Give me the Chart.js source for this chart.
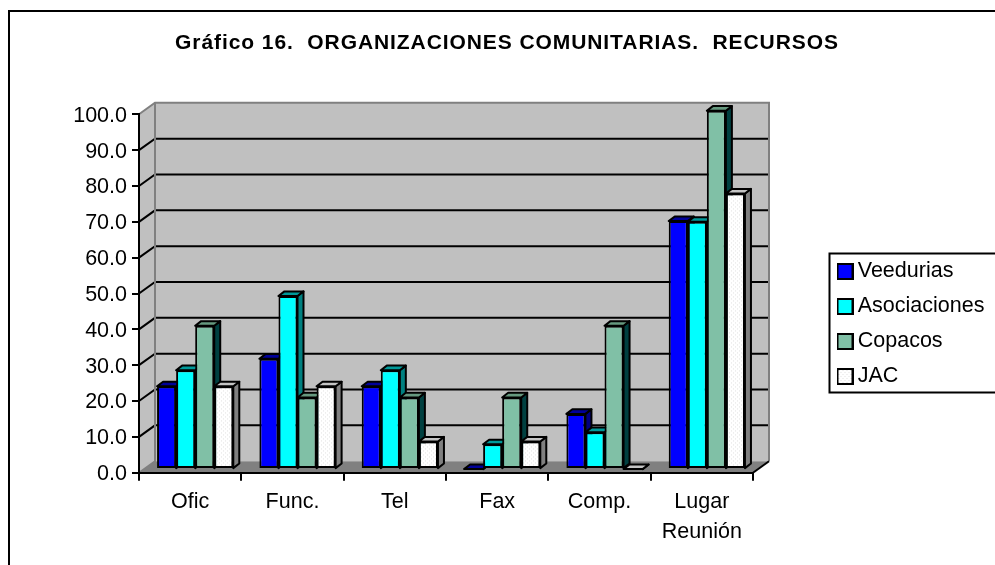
<!DOCTYPE html>
<html>
<head>
<meta charset="utf-8">
<style>html,body{margin:0;padding:0;background:#fff;overflow:hidden}canvas{display:block}</style>
<script src="https://cdn.jsdelivr.net/npm/chart.js@4"></script>
</head>
<body>
<canvas id="c" width="995" height="565"></canvas>
<script>
const titleText = 'Gráfico 16.  ORGANIZACIONES COMUNITARIAS.  RECURSOS';
const categories = ['Ofic', 'Func.', 'Tel', 'Fax', 'Comp.', ['Lugar', 'Reunión']];
const seriesNames = ['Veedurias', 'Asociaciones', 'Copacos', 'JAC'];
const veedurias = [23.1, 30.8, 23.1, 0, 15.4, 69.2];
const asociaciones = [27.6, 48.3, 27.6, 6.9, 10.3, 69.0];
const copacos = [40, 20, 20, 20, 40, 100];
const jac = [23.1, 23.1, 7.7, 7.7, 0, 76.9];
const frontColors = ['#0000ff', '#00ffff', '#80c0a6'];
const sideColors = ['#000080', '#008080', '#004040', '#808080'];
const topColors = ['#000099', '#009999', '#66997f', '#c4c4c4'];

const FONT = '"Liberation Sans", Arial, sans-serif';
const DEPTH_X = 16, DEPTH_Y = 11.5;   // depth of the 3D box
const BAR_DX = 5, BAR_DY = -3.6;      // bars stand a little inside the floor
const SIDE_X = 6, SIDE_Y = 4.6;       // depth of every bar

function tile() {
  const t = document.createElement('canvas');
  t.width = 4; t.height = 4;
  const g = t.getContext('2d');
  g.fillStyle = '#ffffff'; g.fillRect(0, 0, 4, 4);
  g.fillStyle = '#e2e2e2';
  g.fillRect(0, 0, 1, 1); g.fillRect(2, 2, 1, 1);
  return t;
}
const ctx0 = document.getElementById('c').getContext('2d');
const jacFill = ctx0.createPattern(tile(), 'repeat');

function swatch(fill) {
  const s = document.createElement('canvas');
  s.width = 17; s.height = 17;
  const g = s.getContext('2d');
  g.fillStyle = fill; g.fillRect(1, 1, 15, 15);
  g.strokeStyle = '#000'; g.lineWidth = 2; g.strokeRect(1, 1, 15, 15);
  return s;
}
const fills = [frontColors[0], frontColors[1], frontColors[2], jacFill];
const swatches = fills.map(swatch);

const box3d = {
  id: 'box3d',
  beforeDraw(chart) {
    const c = chart.ctx, a = chart.chartArea, y = chart.scales.y;
    const tb = chart.titleBlock;
    tb.left = 19; tb.right = 995;
    if (!tb._spaced) {
      const d = tb.draw;
      tb.draw = function () {
        c.letterSpacing = '0.92px';
        d.call(this);
        c.letterSpacing = '0px';
      };
      tb._spaced = true;
    }
    const lg = chart.legend;
    lg.left = 829.5; lg.right = 995; lg.top = 247.25; lg.bottom = 565;

    c.save();
    // outer frame, open on the right and at the bottom
    c.strokeStyle = '#000'; c.lineWidth = 2;
    c.beginPath(); c.moveTo(9, 565); c.lineTo(9, 11); c.lineTo(995, 11); c.stroke();
    // legend box
    c.beginPath(); c.moveTo(997, 253.5); c.lineTo(829.5, 253.5); c.lineTo(829.5, 392.5); c.lineTo(997, 392.5); c.stroke();

    const l = a.left, r = a.right, t = a.top, b = a.bottom;
    // left wall
    c.fillStyle = '#c0c0c0';
    c.beginPath(); c.moveTo(l, t); c.lineTo(l + DEPTH_X, t - DEPTH_Y); c.lineTo(l + DEPTH_X, b - DEPTH_Y); c.lineTo(l, b); c.closePath(); c.fill();
    // back wall
    c.fillRect(l + DEPTH_X, t - DEPTH_Y, r - l, b - t);
    // floor
    c.fillStyle = '#808080';
    c.beginPath(); c.moveTo(l, b); c.lineTo(l + DEPTH_X, b - DEPTH_Y); c.lineTo(r + DEPTH_X, b - DEPTH_Y); c.lineTo(r, b); c.closePath(); c.fill();
    // gridlines
    c.strokeStyle = '#000'; c.lineWidth = 2;
    y.ticks.forEach(tk => {
      if (tk.value === 0 || tk.value === 100) return;
      const p = y.getPixelForValue(tk.value);
      c.beginPath(); c.moveTo(l, p); c.lineTo(l + DEPTH_X, p - DEPTH_Y); c.lineTo(r + DEPTH_X, p - DEPTH_Y); c.stroke();
    });
    // wall outlines
    c.strokeStyle = '#808080';
    c.beginPath(); c.moveTo(l, t); c.lineTo(l + DEPTH_X, t - DEPTH_Y); c.lineTo(r + DEPTH_X, t - DEPTH_Y); c.lineTo(r + DEPTH_X, b - DEPTH_Y); c.stroke();
    c.beginPath(); c.moveTo(l + DEPTH_X, t - DEPTH_Y); c.lineTo(l + DEPTH_X, b - DEPTH_Y); c.lineTo(l, b); c.stroke();
    c.strokeStyle = '#000';
    c.beginPath(); c.moveTo(r, b); c.lineTo(r + DEPTH_X, b - DEPTH_Y); c.stroke();
    c.restore();
  },
  // Bars are painted left to right, each with its 3D side and top, so the next
  // bar's front covers the previous bar's side.
  beforeDatasetsDraw(chart) {
    const c = chart.ctx;
    c.save();
    c.translate(BAR_DX, BAR_DY);
    chart.getSortedVisibleDatasetMetas().forEach(meta => {
      const i = meta.index;
      c.save();
      c.strokeStyle = '#000'; c.lineWidth = 2; c.lineJoin = 'round';
      meta.data.forEach(el => {
        const x0 = el.x - el.width / 2, x1 = el.x + el.width / 2, yt = el.y, yb = el.base;
        c.fillStyle = sideColors[i];
        c.beginPath(); c.moveTo(x1, yt); c.lineTo(x1 + SIDE_X, yt - SIDE_Y); c.lineTo(x1 + SIDE_X, yb - SIDE_Y); c.lineTo(x1, yb); c.closePath(); c.fill(); c.stroke();
        c.fillStyle = topColors[i];
        c.beginPath(); c.moveTo(x0, yt); c.lineTo(x0 + SIDE_X, yt - SIDE_Y); c.lineTo(x1 + SIDE_X, yt - SIDE_Y); c.lineTo(x1, yt); c.closePath(); c.fill(); c.stroke();
      });
      c.restore();
      meta.controller.draw();
    });
    c.restore();
    return false;
  }
};

const seriesValues = [veedurias, asociaciones, copacos, jac];
new Chart(ctx0, {
  type: 'bar',
  plugins: [box3d],
  data: {
    labels: categories,
    datasets: seriesNames.map((name, i) => ({
      label: name,
      data: seriesValues[i],
      backgroundColor: fills[i],
      borderColor: '#000',
      borderWidth: 2,
      borderSkipped: false,
      categoryPercentage: 0.745,
      barPercentage: 1,
      clip: false
    }))
  },
  options: {
    responsive: false,
    animation: false,
    layout: { padding: { left: 0, right: 242, top: 0, bottom: 0 } },
    plugins: {
      tooltip: { enabled: false },
      title: {
        display: true,
        text: titleText,
        color: '#000',
        font: { family: FONT, size: 21, weight: 'bold', lineHeight: 1.2 },
        padding: { top: 30.7, bottom: 58.4 }
      },
      legend: {
        position: 'chartArea',
        align: 'start',
        labels: {
          usePointStyle: true,
          boxWidth: 4,
          padding: 13.5,
          color: '#000',
          font: { family: FONT, size: 21.5 },
          sort: (a, b) => a.datasetIndex - b.datasetIndex,
          generateLabels(chart) {
            return Chart.defaults.plugins.legend.labels.generateLabels(chart)
              .map(it => Object.assign(it, { pointStyle: swatches[it.datasetIndex] }));
          }
        }
      }
    },
    scales: {
      x: {
        afterFit(s) { s.height = 92.3; },
        grid: { drawOnChartArea: false, drawTicks: true, tickLength: 8, color: '#000', lineWidth: 2 },
        border: { display: true, color: '#000', width: 2 },
        ticks: { color: '#000', padding: 6, maxRotation: 0, font: { family: FONT, size: 21.5, lineHeight: 1.4 } }
      },
      y: {
        min: 0, max: 100,
        afterFit(s) { s.width = 139; },
        grid: { drawOnChartArea: false, drawTicks: true, tickLength: 7, color: '#000', lineWidth: 2 },
        border: { display: true, color: '#000', width: 2 },
        ticks: {
          stepSize: 10, color: '#000', padding: 5, labelOffset: 1.5,
          font: { family: FONT, size: 21.5 },
          callback: v => v.toFixed(1)
        }
      }
    }
  }
});
</script>
</body>
</html>
